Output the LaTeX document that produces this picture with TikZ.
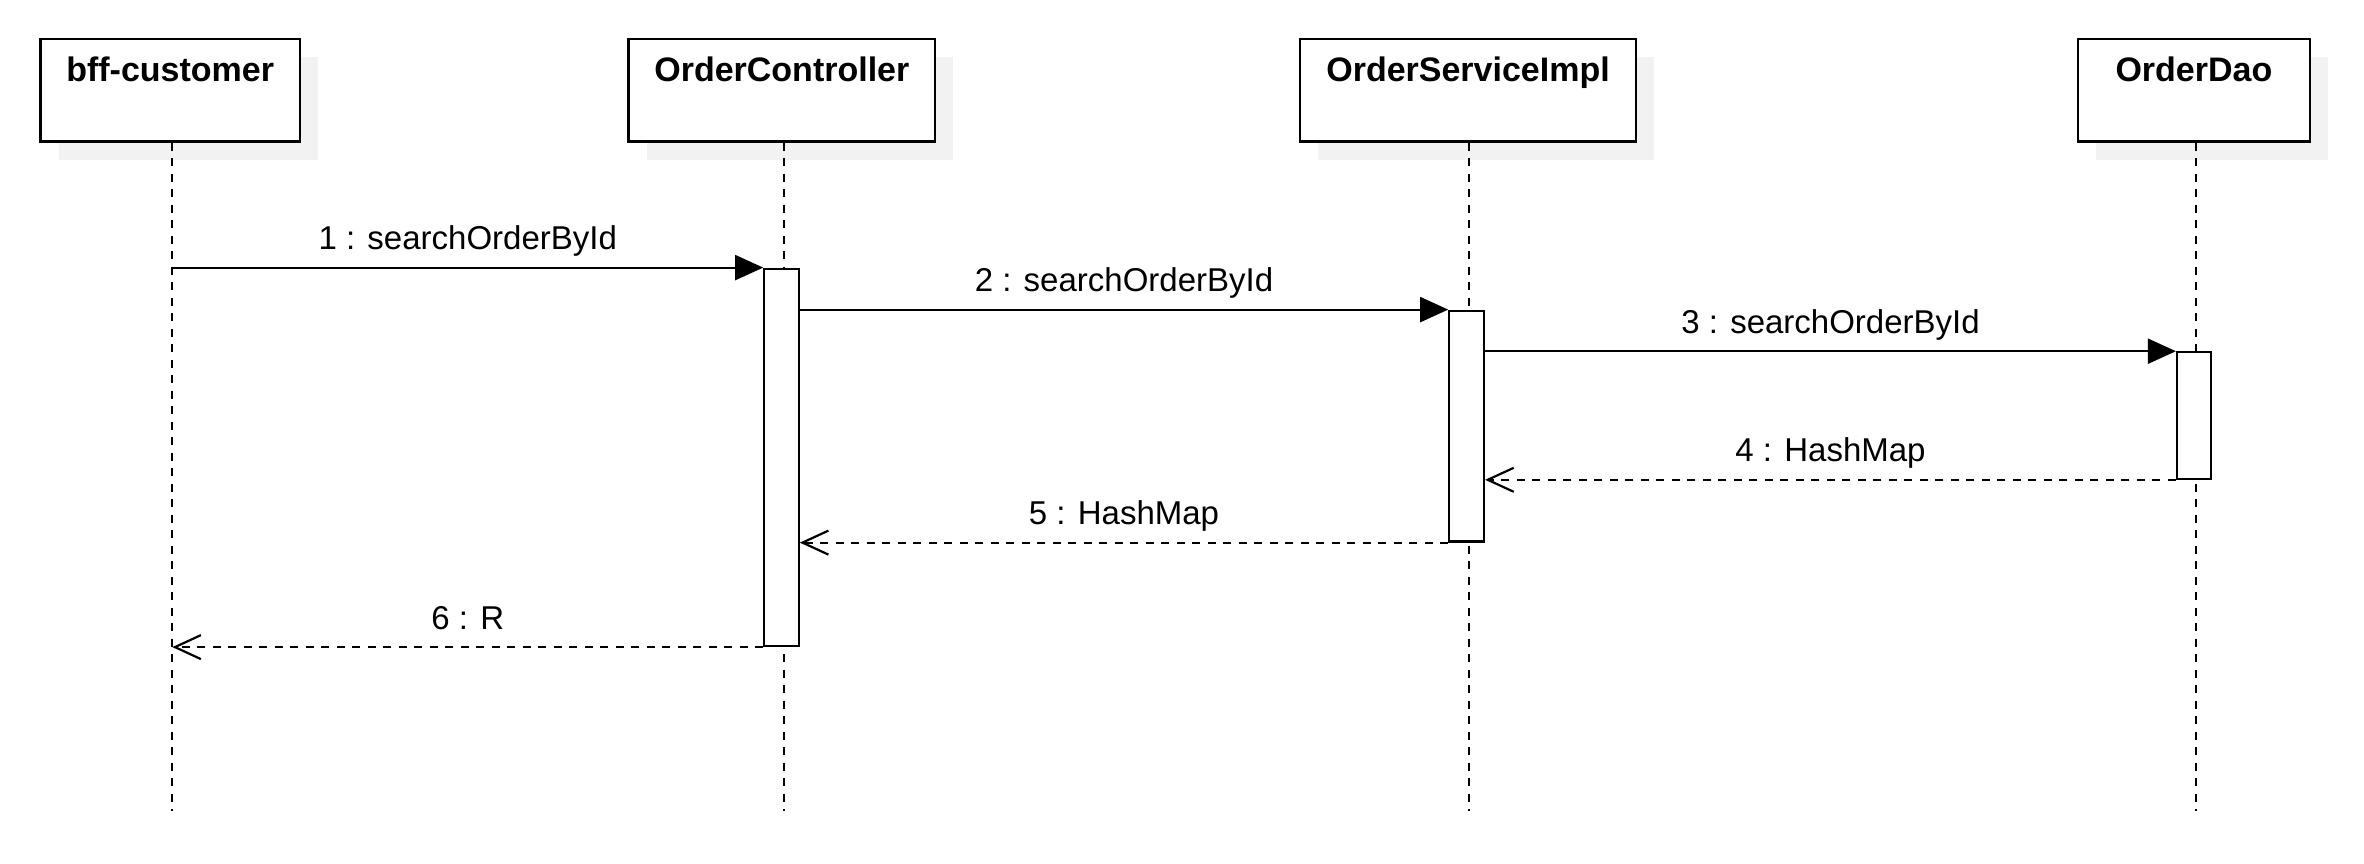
\documentclass[tikz,border=0pt]{standalone}
\usepackage{fontspec}
\setmainfont{Liberation Sans}
\usetikzlibrary{arrows.meta,shadows}
\definecolor{shadowgray}{HTML}{F2F2F2}
\begin{document}
\begin{tikzpicture}[x=1pt,y=-1pt,
  obj/.style={draw, line width=2.4pt, fill=white, minimum width=#1, minimum height=102.6pt,
    inner sep=0pt, anchor=north west,
    drop shadow={shadow xshift=18pt, shadow yshift=-18pt, fill=shadowgray, draw=none, opacity=1}},
  ttl/.style={font=\fontsize{34}{40}\selectfont\bfseries, anchor=base, inner sep=0pt},
  life/.style={line width=2pt, dash pattern=on 8pt off 7.5pt},
  act/.style={draw, line width=2.2pt, fill=white, inner sep=0pt, minimum width=#1},
  call/.style={line width=2.2pt, -{Triangle[length=28pt,width=25pt]}},
  ret/.style={line width=2pt, dash pattern=on 8pt off 7.5pt, -{Straight Barb[length=26pt,width=24pt,line width=2.2pt]}},
  lbl/.style={font=\fontsize{33}{40}\selectfont, anchor=base, inner sep=0pt, midway, yshift=18pt}
]
\useasboundingbox (0,0) rectangle (2364,863);
\fill[white] (0,0) rectangle (2364,863);

% objects
\node[obj=259.4pt] (bff) at (39.3,37.7) {};
\node[obj=306.7pt] (oc) at (627.3,37.7) {};
\node[obj=335.7pt] (osi) at (1299,37.7) {};
\node[obj=232pt] (od) at (2076.7,37.7) {};

\node[ttl] (tbff) at ([yshift=-44pt]bff.north) {bff-customer};
\node[ttl] (toc) at ([yshift=-44pt]oc.north) {OrderController};
\node[ttl] (tosi) at ([yshift=-44pt]osi.north) {OrderServiceImpl};
\node[ttl] (tod) at ([yshift=-44pt]od.north) {OrderDao};

% lifelines
\coordinate (lbff) at (172.3,811);
\coordinate (loc) at (784,811);
\coordinate (losi) at (1469,811);
\coordinate (lod) at (2196,811);
\draw[life] (lbff |- bff.south) -- (lbff);
\draw[life] (loc |- oc.south) -- (loc);
\draw[life] (losi |- osi.south) -- (losi);
\draw[life] (lod |- od.south) -- (lod);

% activations
\node[act=34.4pt, minimum height=377.3pt] (a1) at (781.5,457.35) {};
\node[act=34.7pt, minimum height=230.8pt] (a2) at (1466.65,426.1) {};
\node[act=34pt, minimum height=126.4pt] (a3) at (2194,415.5) {};

% messages
\draw[call] (lbff |- a1.north west) -- (a1.north west) node[lbl] {1 : searchOrderById};
\draw[call] (a1.east |- a2.north west) -- (a2.north west) node[lbl] {2 : searchOrderById};
\draw[call] (a2.east |- a3.north west) -- (a3.north west) node[lbl] {3 : searchOrderById};
\draw[ret] (a3.south west) -- (a2.east |- a3.south west) node[lbl] {4 : HashMap};
\draw[ret] (a2.south west) -- (a1.east |- a2.south west) node[lbl] {5 : HashMap};
\draw[ret] (a1.south west) -- (lbff |- a1.south west) node[lbl] {6 : R};
\end{tikzpicture}
\end{document}
